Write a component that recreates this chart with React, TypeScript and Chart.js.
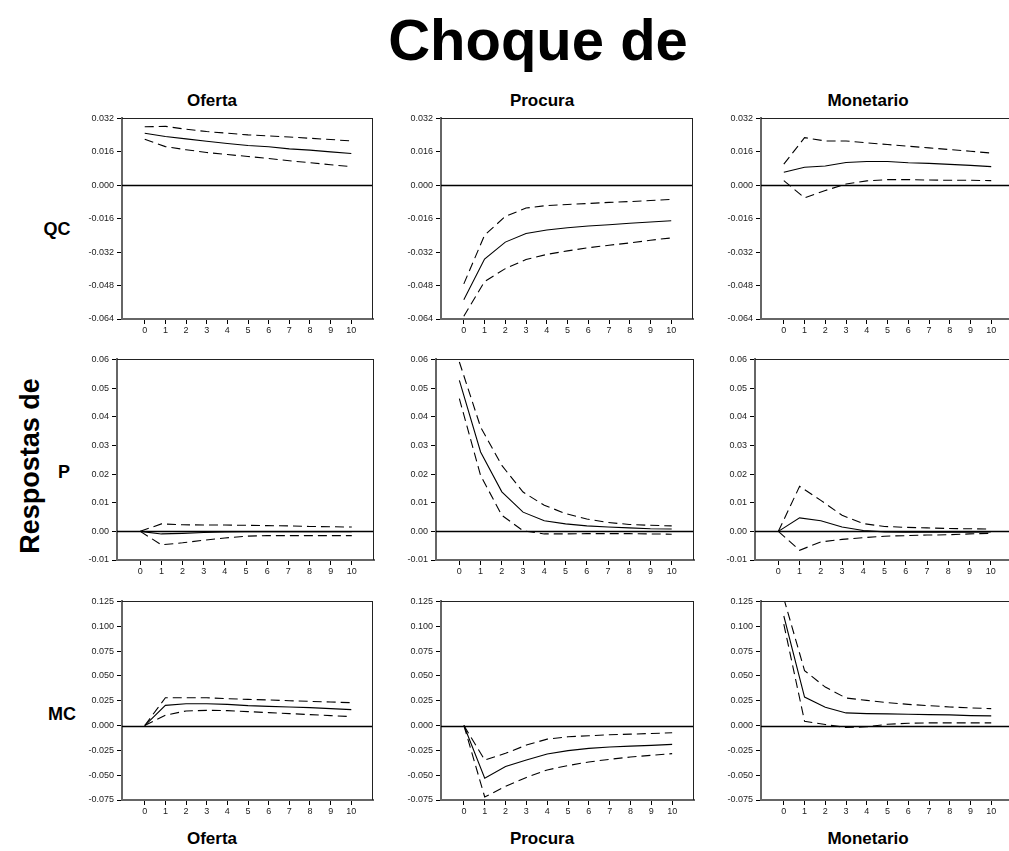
import React, { useEffect, useRef } from "react";
import { Chart, registerables } from "chart.js";
Chart.register(...registerables);

// ---------- data ----------
const horizons = [0, 1, 2, 3, 4, 5, 6, 7, 8, 9, 10];
const shockNames = ["Oferta", "Procura", "Monetario"];
const responseNames = ["QC", "P", "MC"];

// QC responses
const qcOfertaMid = [0.0249, 0.0233, 0.0222, 0.0211, 0.02, 0.019, 0.0184, 0.0174, 0.0168, 0.016, 0.0152];
const qcOfertaUp = [0.028, 0.0282, 0.0268, 0.0257, 0.0249, 0.0241, 0.0236, 0.0231, 0.0225, 0.0219, 0.0212];
const qcOfertaLo = [0.022, 0.0185, 0.017, 0.0157, 0.0147, 0.0138, 0.0128, 0.0117, 0.0108, 0.0098, 0.0089];

const qcProcuraMid = [-0.0548, -0.0353, -0.0272, -0.0231, -0.0214, -0.0203, -0.0195, -0.0189, -0.0182, -0.0176, -0.017];
const qcProcuraUp = [-0.0472, -0.0239, -0.0149, -0.0109, -0.0097, -0.0092, -0.0087, -0.0082, -0.0078, -0.0073, -0.0068];
const qcProcuraLo = [-0.0627, -0.0461, -0.0399, -0.0355, -0.0331, -0.0314, -0.0299, -0.0287, -0.0276, -0.0263, -0.0252];

const qcMonetMid = [0.0062, 0.0086, 0.0092, 0.0109, 0.0114, 0.0114, 0.0108, 0.0105, 0.01, 0.0095, 0.0089];
const qcMonetUp = [0.0101, 0.0228, 0.0212, 0.0212, 0.0203, 0.0195, 0.0187, 0.0179, 0.0171, 0.0163, 0.0154];
const qcMonetLo = [0.0022, -0.006, -0.0025, 0.0006, 0.0021, 0.0027, 0.0027, 0.0025, 0.0024, 0.0024, 0.0022];

// P responses
const pOfertaMid = [0, -0.0009, -0.0007, -0.0004, -0.0002, -0.0001, -0.0001, -0.0001, -0.0001, -0.0001, -0.0001];
const pOfertaUp = [0, 0.0026, 0.0023, 0.0022, 0.0022, 0.0021, 0.002, 0.0019, 0.0017, 0.0016, 0.0015];
const pOfertaLo = [0, -0.0047, -0.004, -0.0031, -0.0023, -0.0017, -0.0015, -0.0015, -0.0015, -0.0015, -0.0015];

const pProcuraMid = [0.0527, 0.0277, 0.0138, 0.0067, 0.0037, 0.0026, 0.0019, 0.0015, 0.0012, 0.0009, 0.0008];
const pProcuraUp = [0.0591, 0.0364, 0.023, 0.0137, 0.0091, 0.0062, 0.0043, 0.0031, 0.0024, 0.0021, 0.0019];
const pProcuraLo = [0.0463, 0.0195, 0.0056, 0.0002, -0.0009, -0.0009, -0.0008, -0.0008, -0.0008, -0.0009, -0.001];

const pMonetMid = [0, 0.0047, 0.0037, 0.0015, 0.0003, -0.0002, -0.0003, -0.0003, -0.0003, -0.0003, -0.0002];
const pMonetUp = [0, 0.0157, 0.0108, 0.0056, 0.0027, 0.0017, 0.0014, 0.0012, 0.001, 0.0009, 0.0008];
const pMonetLo = [0, -0.0066, -0.0037, -0.0028, -0.0022, -0.0017, -0.0015, -0.0013, -0.0012, -0.0009, -0.0007];

// MC responses
const mcOfertaMid = [0, 0.0203, 0.022, 0.022, 0.0213, 0.02, 0.0193, 0.0187, 0.018, 0.017, 0.016];
const mcOfertaUp = [0, 0.028, 0.028, 0.028, 0.027, 0.0263, 0.0257, 0.025, 0.0243, 0.0237, 0.023];
const mcOfertaLo = [0, 0.0103, 0.0147, 0.0153, 0.015, 0.014, 0.013, 0.012, 0.011, 0.01, 0.009];

const mcProcuraMid = [0, -0.053, -0.0413, -0.0347, -0.0287, -0.0253, -0.023, -0.0217, -0.0207, -0.02, -0.019];
const mcProcuraUp = [0, -0.0347, -0.028, -0.0197, -0.0137, -0.0113, -0.0103, -0.0093, -0.0087, -0.008, -0.0073];
const mcProcuraLo = [0, -0.072, -0.0613, -0.0523, -0.0447, -0.0403, -0.0367, -0.034, -0.0317, -0.03, -0.0283];

const mcMonetMid = [0.1103, 0.0287, 0.0183, 0.0127, 0.012, 0.0117, 0.0113, 0.011, 0.0107, 0.01, 0.0097];
const mcMonetUp = [0.128, 0.0553, 0.0387, 0.0277, 0.0253, 0.023, 0.0213, 0.02, 0.0187, 0.0177, 0.017];
const mcMonetLo = [0.102, 0.0043, 0.001, -0.002, -0.0013, 0.0013, 0.0023, 0.0027, 0.0027, 0.0027, 0.0027];

// y tick values per row
const qcTicks = [-0.064, -0.048, -0.032, -0.016, 0, 0.016, 0.032];
const pTicks = [-0.01, 0, 0.01, 0.02, 0.03, 0.04, 0.05, 0.06];
const mcTicks = [-0.075, -0.05, -0.025, 0, 0.025, 0.05, 0.075, 0.1, 0.125];
const rowTicks = [qcTicks, pTicks, mcTicks];
const rowDecimals = [3, 2, 3];

const grid = [
  [[qcOfertaMid, qcOfertaUp, qcOfertaLo], [qcProcuraMid, qcProcuraUp, qcProcuraLo], [qcMonetMid, qcMonetUp, qcMonetLo]],
  [[pOfertaMid, pOfertaUp, pOfertaLo], [pProcuraMid, pProcuraUp, pProcuraLo], [pMonetMid, pMonetUp, pMonetLo]],
  [[mcOfertaMid, mcOfertaUp, mcOfertaLo], [mcProcuraMid, mcProcuraUp, mcProcuraLo], [mcMonetMid, mcMonetUp, mcMonetLo]],
];

// ---------- layout ----------
const FONT = '"Liberation Sans", Arial, Helvetica, sans-serif';
const rowTop = [118, 359, 601];
const rowBottom = [319, 560, 800];
const colLeft = [
  [122, 441, 761],
  [117, 436, 755],
  [122, 441, 761],
];
const colRight = [
  [373, 693, 1013],
  [374, 694, 1013],
  [373, 694, 1013],
];
const Y_W = 60;
const X_H = 26;
const PAD_T = 8;
const PAD_R = 4;

const framePlugin = {
  id: "frame",
  beforeDatasetsDraw(chart: any) {
    const { ctx, chartArea: a, scales } = chart;
    const y0 = Math.round(scales.y.getPixelForValue(0)) + 0.5;
    ctx.save();
    ctx.strokeStyle = "#000";
    ctx.lineWidth = 1.3;
    ctx.beginPath();
    ctx.moveTo(a.left, y0);
    ctx.lineTo(a.right, y0);
    ctx.stroke();
    ctx.restore();
  },
  afterDraw(chart: any) {
    const { ctx, chartArea: a } = chart;
    ctx.save();
    ctx.strokeStyle = "#222";
    ctx.lineWidth = 1;
    ctx.beginPath();
    ctx.moveTo(a.left, Math.round(a.top) + 0.5);
    ctx.lineTo(a.right, Math.round(a.top) + 0.5);
    ctx.moveTo(Math.round(a.right) - 0.5, a.top);
    ctx.lineTo(Math.round(a.right) - 0.5, a.bottom);
    ctx.stroke();
    ctx.restore();
  },
};

function Panel({ r, c }: { r: number; c: number }) {
  const ref = useRef<HTMLCanvasElement>(null);
  const left = colLeft[r][c];
  const right = colRight[r][c];
  const top = rowTop[r];
  const bottom = rowBottom[r];
  const w = Y_W + (right - left) + PAD_R;
  const h = PAD_T + (bottom - top) + X_H;

  useEffect(() => {
    const [mid, up, lo] = grid[r][c];
    const ticks = rowTicks[r];
    const dec = rowDecimals[r];
    const toPts = (arr: number[]) => horizons.map((hz, i) => ({ x: hz, y: arr[i] }));
    const chart = new Chart(ref.current!, {
      type: "line",
      data: {
        datasets: [
          { data: toPts(mid), borderColor: "#000", borderWidth: 1.1, pointRadius: 0, tension: 0 },
          { data: toPts(up), borderColor: "#000", borderWidth: 1.1, borderDash: [9, 5], pointRadius: 0, tension: 0 },
          { data: toPts(lo), borderColor: "#000", borderWidth: 1.1, borderDash: [9, 5], pointRadius: 0, tension: 0 },
        ],
      },
      options: {
        responsive: false,
        animation: false,
        events: [],
        layout: { padding: { top: PAD_T, right: PAD_R, left: 0, bottom: 0 }, autoPadding: false },
        plugins: { legend: { display: false }, tooltip: { enabled: false } },
        scales: {
          x: {
            type: "linear",
            min: -1.1,
            max: 11.05,
            afterBuildTicks: (s: any) => {
              s.ticks = horizons.map((v) => ({ value: v }));
            },
            afterFit: (s: any) => {
              s.height = X_H;
            },
            ticks: {
              autoSkip: false,
              maxRotation: 0,
              padding: 1,
              color: "#222",
              font: { family: FONT, size: 9 },
              callback: (v: any) => String(v),
            },
            grid: { drawOnChartArea: false, drawTicks: true, tickLength: 5, color: "#000", lineWidth: 1 },
            border: { display: true, color: "#666", width: 2 },
          },
          y: {
            type: "linear",
            min: ticks[0],
            max: ticks[ticks.length - 1],
            afterBuildTicks: (s: any) => {
              s.ticks = ticks.map((v) => ({ value: v }));
            },
            afterFit: (s: any) => {
              s.width = Y_W;
            },
            ticks: {
              padding: 3,
              color: "#222",
              font: { family: FONT, size: 9 },
              callback: (v: any) => Number(v).toFixed(dec),
            },
            grid: { drawOnChartArea: false, drawTicks: true, tickLength: 5, color: "#000", lineWidth: 1 },
            border: { display: true, color: "#666", width: 2 },
          },
        },
      },
      plugins: [framePlugin],
    });
    return () => chart.destroy();
  }, [r, c]);

  return (
    <canvas
      ref={ref}
      width={w}
      height={h}
      style={{ position: "absolute", left: left - Y_W, top: top - PAD_T, width: w, height: h }}
    />
  );
}

const label = (text: string, x: number, y: number, size: number, extra: any = {}) => (
  <div
    key={text + x + y}
    style={{
      position: "absolute",
      left: x,
      top: y,
      transform: `translate(-50%, -50%) ${extra.transform || ""}`,
      fontFamily: FONT,
      fontWeight: "bold",
      fontSize: size,
      lineHeight: 1,
      whiteSpace: "nowrap",
      color: "#000",
    }}
  >
    {text}
  </div>
);

const colCenter = [212, 542, 868];
const rowLabelX = [57, 64, 62];
const rowLabelY = [229, 472, 714];

export default function App() {
  const panels = [];
  for (let r = 0; r < 3; r++) for (let c = 0; c < 3; c++) panels.push(<Panel key={`${r}-${c}`} r={r} c={c} />);
  return (
    <div
      style={{
        position: "fixed",
        left: 0,
        top: 0,
        width: 1009,
        height: 851,
        overflow: "hidden",
        background: "#fff",
      }}
    >
      {label("Choque de", 538, 40, 58)}
      {shockNames.map((s, i) => label(s, colCenter[i], 100, 17))}
      {shockNames.map((s, i) => label(s, colCenter[i], 838, 17))}
      {responseNames.map((s, i) => label(s, rowLabelX[i], rowLabelY[i], 18))}
      {label("Respostas de", 30, 466, 27, { transform: "rotate(-90deg)" })}
      {panels}
    </div>
  );
}
